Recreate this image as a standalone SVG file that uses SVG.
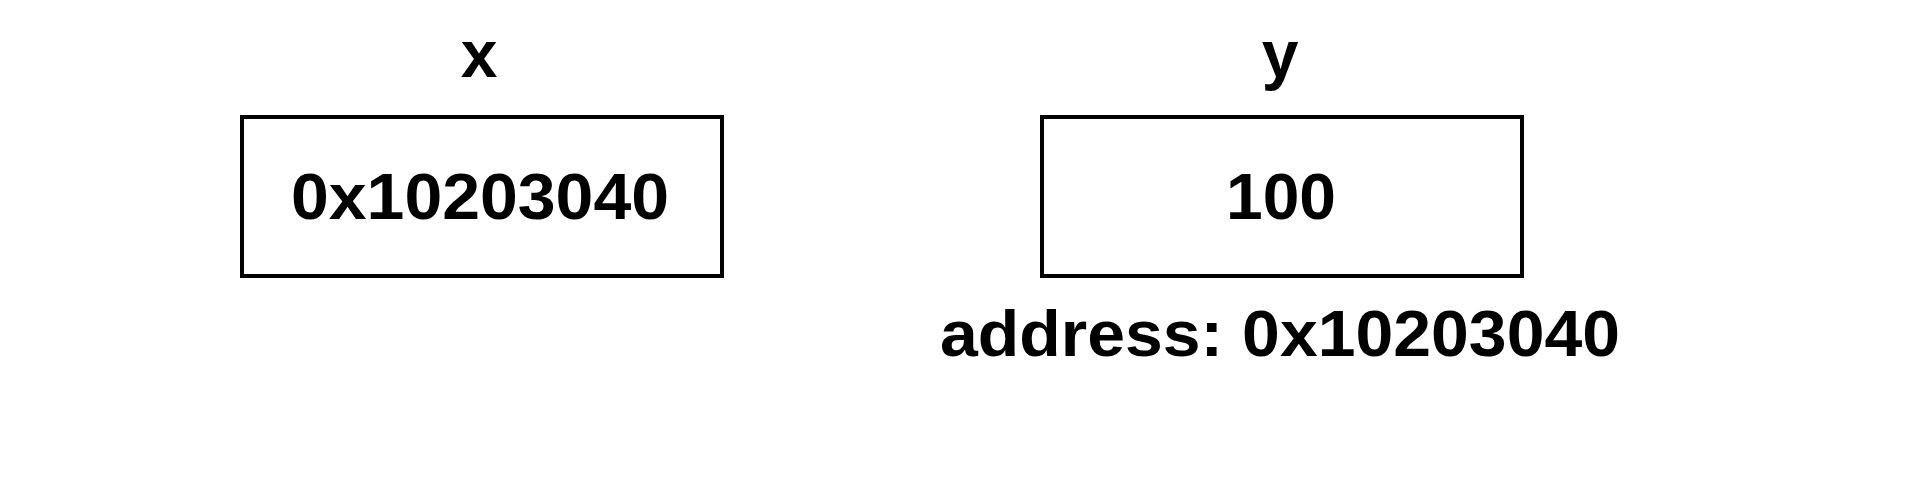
<svg xmlns="http://www.w3.org/2000/svg" width="1928" height="486" viewBox="0 0 1928 486">
<style>
.box{fill:#fff;stroke:#000;stroke-width:4}
.t{font-family:"Liberation Sans",Arial,sans-serif;font-weight:bold;fill:#000}
</style>
<rect width="1928" height="486" fill="#fff"/>
<g id="node-x">
<text class="t" x="479" y="77" font-size="66" text-anchor="middle">x</text>
<rect class="box" x="242" y="117" width="480" height="159"/>
<text class="t" x="291" y="219" font-size="65" textLength="378" lengthAdjust="spacingAndGlyphs">0x10203040</text>
</g>
<g id="node-y">
<text class="t" x="1280" y="77" font-size="66" text-anchor="middle">y</text>
<rect class="box" x="1042" y="117" width="480" height="159"/>
<text class="t" x="1226" y="219" font-size="65" textLength="110" lengthAdjust="spacingAndGlyphs">100</text>
<text class="t" x="940" y="356" font-size="65" textLength="680" lengthAdjust="spacingAndGlyphs">address: 0x10203040</text>
</g>
<g id="connectors"></g>
</svg>
